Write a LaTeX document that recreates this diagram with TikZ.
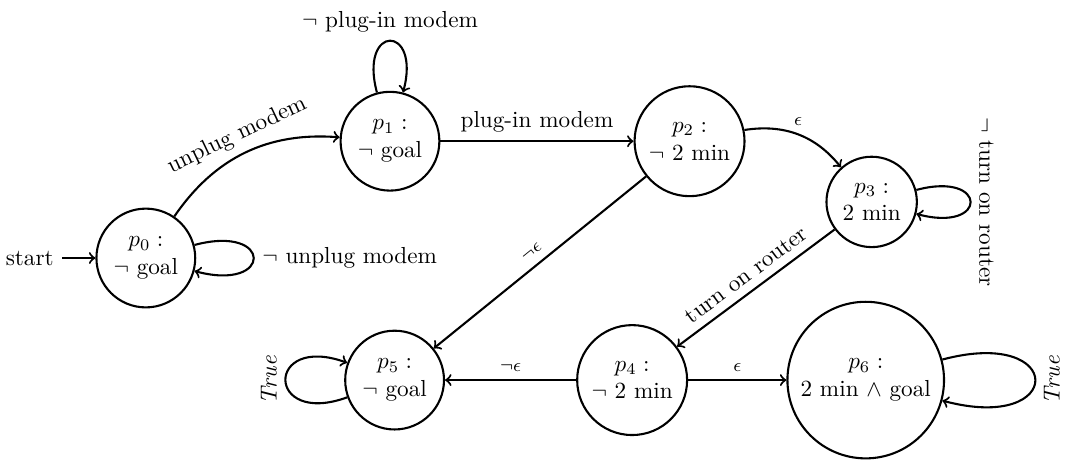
\documentclass[tikz,border=0pt]{standalone}
\usepackage{amsmath}
\usepackage{tikz}
\usetikzlibrary{positioning}

\begin{document}
\begin{tikzpicture}[line width=0.9pt,
    pstate/.style={circle, draw, align=center},
    eps/.style={font=\footnotesize}]

\useasboundingbox (0,0) rectangle (16.14,7.03);

    % states
    \node[pstate] (p0) at ( 2.21,3.12) {$p_0:$\\$\neg$ goal};
    \node[pstate] (p1) at ( 5.91,4.89) {$p_1:$\\$\neg$ goal};
    \node[pstate] (p2) at (10.45,4.89) {$p_2:$\\$\neg$ 2 min};
    \node[pstate] (p3) at (13.21,3.97) {$p_3:$\\2 min};
    \node[pstate] (p4) at ( 9.58,1.27) {$p_4:$\\$\neg$ 2 min};
    \node[pstate] (p5) at ( 5.98,1.27) {$p_5:$\\$\neg$ goal};
    \node[pstate] (p6) at (13.12,1.27) {$p_6:$\\2 min $\wedge$ goal};

    \node (start) [left=5mm of p0] {start};

    % transitions
    \draw[->] (start) -- (p0);
    \draw[->] (p0) to[bend left] node[above, sloped] {unplug modem} (p1);
    \draw[->] (p0) to[loop right] node[right] {$\neg$ unplug modem} (p0);
    \draw[->] (p1) to[loop above, looseness=7] node[above] {$\neg$ plug-in modem} (p1);
    \draw[->] (p1) -- node[above] {plug-in modem} (p2);
    \draw[->] (p2) to[bend left] node[above, eps] {$\epsilon$} (p3);
    \draw[->] (p2) -- node[above, sloped, eps] {$\neg\epsilon$} (p5);
    \draw[->] (p3) to[loop right] node[anchor=south, rotate=-90] {$\neg$ turn on router} (p3);
    \draw[->] (p3) -- node[above, sloped] {turn on router} (p4);
    \draw[->] (p4) -- node[above, eps] {$\neg\epsilon$} (p5);
    \draw[->] (p4) -- node[above, eps] {$\epsilon$} (p6);
    \draw[->] (p5) to[out=200, in=160, loop, looseness=6.5] node[anchor=south, rotate=90] {\textit{True}} (p5);
    \draw[->] (p6) to[loop right] node[anchor=north, rotate=90] {\textit{True}} (p6);

\end{tikzpicture}
\end{document}
